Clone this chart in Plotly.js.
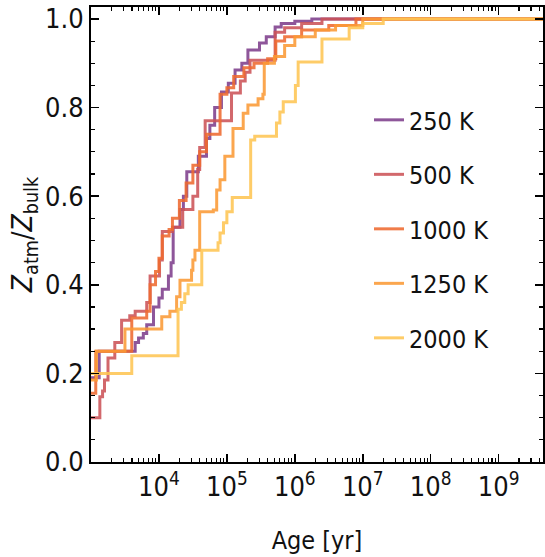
<!DOCTYPE html>
<html>
<head>
<meta charset="utf-8">
<script src="https://cdn.plot.ly/plotly-3.0.1.min.js"></script>
<style>html,body{margin:0;padding:0;background:#fff;}#chart{width:545px;height:557px;}</style>
</head>
<body>
<div id="chart"></div>
<script>
// Ages in years, cumulative Z_atm/Z_bulk
const labels = ["250 K", "500 K", "1000 K", "1250 K", "2000 K"];
const colors = ["#7e3f8c", "#cc5358", "#ee6a30", "#fb9a35", "#fec553"];

const age250 = [1000, 1320, 4470, 5010, 5890, 6610, 8320, 1.0e4, 1.12e4, 1.38e4, 1.51e4, 1.62e4, 2.04e4, 2.29e4, 2.57e4, 3.8e4, 5.01e4, 5.62e4, 6.61e4, 8.32e4, 1.05e5, 1.32e5, 1.66e5, 2.04e5, 3.02e5, 3.8e5, 5.13e5, 6.31e5, 1e6, 1.78e6, 4.5e9];
const z250 = [0.19, 0.25, 0.27, 0.28, 0.29, 0.31, 0.35, 0.37, 0.39, 0.42, 0.45, 0.53, 0.57, 0.60, 0.655, 0.69, 0.73, 0.76, 0.80, 0.835, 0.855, 0.885, 0.90, 0.93, 0.946, 0.96, 0.982, 0.99, 0.995, 1.0, 1.0];

const age500 = [1000, 1350, 1480, 1580, 1780, 2240, 2820, 3720, 4470, 6610, 7410, 1.02e4, 1.12e4, 1.58e4, 2.24e4, 3.16e4, 3.72e4, 3.98e4, 4.79e4, 1.17e5, 1.58e5, 1.86e5, 2.19e5, 5.13e5, 7.08e5, 1.26e6, 2.51e6, 4.5e9];
const z500 = [0.10, 0.147, 0.16, 0.185, 0.235, 0.27, 0.32, 0.33, 0.34, 0.36, 0.42, 0.456, 0.52, 0.53, 0.57, 0.60, 0.66, 0.71, 0.77, 0.833, 0.86, 0.88, 0.907, 0.97, 0.98, 0.99, 1.0, 1.0];

const age1000 = [1000, 1175, 3980, 6610, 7410, 8910, 1e4, 1.12e4, 1.41e4, 1.58e4, 2.0e4, 2.51e4, 3.16e4, 3.98e4, 5.01e4, 7.94e4, 1e5, 1.26e5, 1.78e5, 2.51e5, 3.98e5, 5.25e5, 7.08e5, 1.26e6, 3.16e6, 7.94e6, 4.5e9];
const z1000 = [0.155, 0.25, 0.325, 0.34, 0.40, 0.43, 0.46, 0.51, 0.525, 0.55, 0.59, 0.63, 0.67, 0.70, 0.74, 0.83, 0.845, 0.87, 0.89, 0.90, 0.91, 0.95, 0.96, 0.975, 0.985, 1.0, 1.0];

const age1250 = [1000, 1200, 3160, 1.1e4, 1.45e4, 1.82e4, 2.04e4, 3.02e4, 3.16e4, 3.39e4, 3.98e4, 6.31e4, 7.08e4, 7.94e4, 9.33e4, 1.23e5, 1.74e5, 2.04e5, 2.88e5, 3.39e5, 3.55e5, 5.01e5, 7.08e5, 1e6, 2e6, 3.98e6, 1e7, 4.5e9];
const z1250 = [0.185, 0.25, 0.30, 0.328, 0.34, 0.373, 0.41, 0.433, 0.456, 0.478, 0.565, 0.569, 0.614, 0.637, 0.69, 0.753, 0.787, 0.806, 0.82, 0.83, 0.90, 0.915, 0.94, 0.96, 0.975, 0.985, 1.0, 1.0];

const age2000 = [1000, 3980, 1.91e4, 2.14e4, 2.4e4, 2.69e4, 4.27e4, 7.41e4, 7.94e4, 8.91e4, 1e5, 1.2e5, 2.24e5, 2.57e5, 5.37e5, 6.03e5, 6.76e5, 1.02e6, 1.12e6, 2.51e6, 6.31e6, 1e7, 2e7, 4.5e9];
const z2000 = [0.20, 0.24, 0.345, 0.36, 0.38, 0.40, 0.478, 0.495, 0.517, 0.54, 0.565, 0.597, 0.727, 0.735, 0.765, 0.79, 0.813, 0.85, 0.903, 0.955, 0.98, 0.99, 1.0, 1.0];

const xTickVals = [1e4, 1e5, 1e6, 1e7, 1e8, 1e9];
const xTickText = ["10<sup>4</sup>", "10<sup>5</sup>", "10<sup>6</sup>", "10<sup>7</sup>", "10<sup>8</sup>", "10<sup>9</sup>"];

const series = [[age250, z250], [age500, z500], [age1000, z1000], [age1250, z1250], [age2000, z2000]];

const FONT = "'Liberation Sans Narrow', 'DejaVu Sans Condensed', 'Roboto Condensed', 'Arial Narrow', sans-serif";

const traces = series.map((s, i) => ({
  x: s[0], y: s[1], type: 'scatter', mode: 'lines', name: labels[i],
  line: {shape: 'hv', color: colors[i], width: 3},
  opacity: 0.88, legendgroup: 'g' + i
}));

// minor tick positions for log axis (2..9 per decade)
const minorX = [];
for (let e = 3; e <= 9; e++) for (let m = 2; m <= 9; m++) minorX.push(m * Math.pow(10, e));

const layout = {
  width: 545, height: 557,
  margin: {l: 91, r: 2, t: 7, b: 95},
  paper_bgcolor: '#fff', plot_bgcolor: '#fff',
  font: {family: FONT, size: 26, color: '#111'},
  showlegend: true,
  legend: {x: 0.615, y: 0.802, xanchor: 'left', yanchor: 'top', bgcolor: 'rgba(0,0,0,0)',
    font: {family: FONT, size: 25, color: '#111'}, tracegroupgap: 19, itemwidth: 30},
  xaxis: {
    type: 'log', range: [3, 9.653], showgrid: false, zeroline: false,
    showline: true, linecolor: '#000', linewidth: 2, mirror: 'ticks',
    ticks: 'inside', ticklen: 8, tickwidth: 1.5, tickcolor: '#000',
    tickmode: 'array', tickvals: xTickVals, ticktext: xTickText,
    tickfont: {family: FONT, size: 27, color: '#111'},
    minor: {tickmode: 'array', tickvals: minorX, ticks: 'inside', ticklen: 4, tickwidth: 1.2, tickcolor: '#000'},
    title: {text: 'Age [yr]', font: {family: FONT, size: 25, color: '#111'}, standoff: 30}
  },
  yaxis: {
    range: [0, 1.027], showgrid: false, zeroline: false,
    showline: true, linecolor: '#000', linewidth: 2, mirror: 'ticks',
    ticks: 'inside', ticklen: 8, tickwidth: 1.5, tickcolor: '#000',
    tickmode: 'linear', tick0: 0, dtick: 0.2, tickformat: '.1f',
    tickfont: {family: FONT, size: 27, color: '#111'},
    minor: {dtick: 0.05, ticks: 'inside', ticklen: 4, tickwidth: 1.2, tickcolor: '#000'},
    title: {text: '<i>Z</i><sub>atm</sub>/<i>Z</i><sub>bulk</sub>', font: {family: FONT, size: 28, color: '#111'}, standoff: 4}
  }
};

Plotly.newPlot('chart', traces, layout, {displayModeBar: false, staticPlot: true});
</script>
</body>
</html>
